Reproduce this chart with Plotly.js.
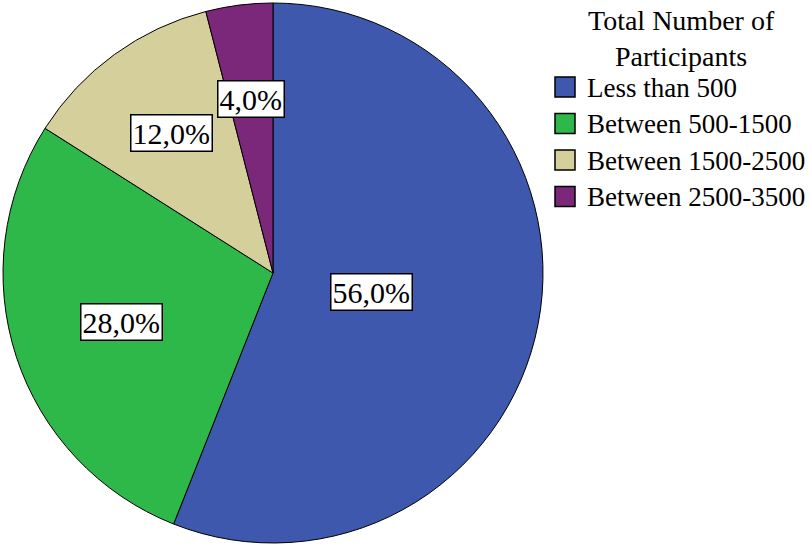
<!DOCTYPE html>
<html><head><meta charset="utf-8">
<script src="https://cdn.plot.ly/plotly-3.0.1.min.js"></script>
<style>html,body{margin:0;padding:0;background:#fff}</style>
</head><body>
<div id="chart" style="width:809px;height:545px"></div>
<script>
const categories = ["Less than 500", "Between 500-1500", "Between 1500-2500", "Between 2500-3500"];
const percentages = [56.0, 28.0, 12.0, 4.0];
const colors = ["#3d58ad", "#2fb84a", "#d4cf9b", "#7b287b"];
const legendTitle = "Total Number of<br>Participants";

const FONT = "Liberation Serif";
const W = 809, H = 545;
const cx = 273, cy = 273, R = 270;
const labelRadius = [0.37, 0.59, 0.64, 0.65];

const fmt = v => v.toFixed(1).replace(".", ",") + "%";
const px2x = p => p / W, px2y = p => 1 - p / H;

const annotations = [];
const shapes = [];
let cum = 0;
const total = percentages.reduce((a, b) => a + b, 0);
percentages.forEach((v, i) => {
  const mid = (cum + v / 2) / total * 2 * Math.PI;
  cum += v;
  const r = R * labelRadius[i];
  const px = cx + r * Math.sin(mid);
  const py = cy - r * Math.cos(mid);
  annotations.push({
    x: px2x(px), y: px2y(py), xref: "paper", yref: "paper",
    text: fmt(v), showarrow: false,
    font: {family: FONT, size: 30, color: "#000"},
    bgcolor: "#fff", bordercolor: "#000", borderwidth: 1.5, borderpad: 1,
    xanchor: "center", yanchor: "middle"
  });
});

annotations.push({
  x: px2x(681), y: px2y(3), xref: "paper", yref: "paper",
  text: legendTitle, showarrow: false, align: "center",
  font: {family: FONT, size: 28, color: "#000"},
  xanchor: "center", yanchor: "top"
});
const legTop = 87, legStep = 36.5, sw = 20;
categories.forEach((c, i) => {
  const yc = legTop + i * legStep;
  shapes.push({
    type: "rect", xref: "paper", yref: "paper",
    x0: px2x(555), x1: px2x(555 + sw), y0: px2y(yc - sw / 2), y1: px2y(yc + sw / 2),
    fillcolor: colors[i], line: {color: "#000", width: 1.5}
  });
  annotations.push({
    x: px2x(585), y: px2y(yc + 1), xref: "paper", yref: "paper",
    text: c, showarrow: false,
    font: {family: FONT, size: 27, color: "#000"},
    xanchor: "left", yanchor: "middle"
  });
});

const data = [{
  type: "pie",
  labels: categories,
  values: percentages,
  sort: false,
  direction: "clockwise",
  rotation: 0,
  textinfo: "none",
  hoverinfo: "label+percent",
  marker: {colors: colors, line: {color: "#000", width: 1}},
  domain: {x: [(cx - R) / W, (cx + R) / W], y: [1 - (cy + R) / H, 1 - (cy - R) / H]}
}];

const layout = {
  width: W, height: H,
  margin: {l: 0, r: 0, t: 0, b: 0},
  paper_bgcolor: "#fff",
  showlegend: false,
  font: {family: FONT, color: "#000"},
  annotations: annotations,
  shapes: shapes
};

Plotly.newPlot("chart", data, layout, {displayModeBar: false, staticPlot: true});
</script>
</body></html>
